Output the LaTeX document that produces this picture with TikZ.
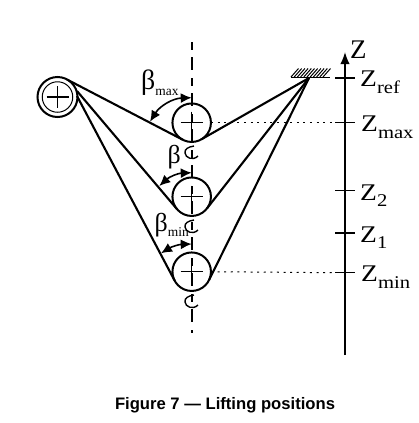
\documentclass[tikz,border=0pt]{standalone}
\usepackage{fontspec}
\setmainfont{Liberation Serif}
\newfontfamily\capfont{Liberation Sans}
\usetikzlibrary{calc,arrows.meta}
\tikzset{
  x=1bp,y=-1bp,
  pulley/.style={circle,draw,line width=2bp,minimum size=38.5bp,inner sep=0pt,outer sep=0pt},
  rope/.style={line width=2.1bp},
  crossbar/.style={line width=1.2bp},
  dotline/.style={line width=1bp,dash pattern=on 2bp off 4.6bp},
  tickmark/.style={line width=1.4bp},
  anglearrow/.style={line width=1.6bp,{Latex[length=11bp,width=10bp]}-{Latex[length=11bp,width=10bp]}},
  zlabel/.style={anchor=base west,inner sep=0pt,xscale=1.15,transform shape,font=\fontsize{24}{24}\selectfont},
  greek/.style={anchor=base west,inner sep=0pt},
  hookarc/.style={line width=1.4bp}
}
\newcommand{\zsub}[1]{\raisebox{-6.3bp}{\fontsize{18}{18}\selectfont #1}}
\newcommand{\gsub}[1]{\raisebox{-5.5bp}{\fontsize{13.5}{13.5}\selectfont #1}}
\begin{document}
\begin{tikzpicture}
\useasboundingbox (0,0) rectangle (419,423);
% pulleys
\node[pulley,minimum size=40bp] (big) at (57.5,97) {};
\node[circle,draw,line width=1bp,minimum size=30.5bp,inner sep=0pt] (bigin) at (big) {};
\node[pulley] (p1) at (191.7,122.7) {};
\node[pulley] (p2) at (191.7,196.7) {};
\node[pulley] (p3) at (191.7,271.7) {};
% vertical dashed axis
\coordinate (axtop) at (191.7,42);
\coordinate (axbot) at (191.7,333);
\draw[line width=1.7bp,dash pattern=on 8bp off 7bp on 13bp off 8bp] (axtop) -- (axbot);
% crosses
\foreach \n in {big,p1,p2,p3}{
  \draw[crossbar] ($(\n)+(-11,0)$) -- ($(\n)+(11,0)$);
  \draw[crossbar] ($(\n)+(0,-11)$) -- ($(\n)+(0,11)$);
}
% anchor
\coordinate (anchor) at (309,78);
\coordinate (hl) at (291,77.5);
\coordinate (hr) at (330,77.5);
\draw[line width=1.8bp] (hl) -- (hr);
\foreach \i in {0,...,10}{
  \draw[line width=1bp] ($(hl)+(\i*3.2,-0.5)$) -- ++(7.5,-8.5);
}
% ropes
\coordinate (a1) at (67,79.5);
\coordinate (a2) at (77,91);
\coordinate (a3) at (77,96);
\foreach \p/\a in {p1/a1,p2/a2,p3/a3}{
  \coordinate (L\p) at (tangent cs:node=\p,point={(\a)},solution=1);
  \coordinate (R\p) at (tangent cs:node=\p,point={(anchor)},solution=2);
  \draw[rope] (\a) -- (L\p);
  \draw[rope] (anchor) -- (R\p);
}
% hooks
\foreach \y in {153,227,302}{
  \draw[hookarc] (194,\y-7) .. controls (188,\y-6) and (184.5,\y-4) .. (185,\y)
     .. controls (185.5,\y+5) and (193,\y+8) .. (198,\y+3);
}
% dotted levels
\coordinate (zA) at (335,122.7);
\coordinate (zB) at (335,272.7);
\draw[dotline] (p1.east) -- (zA);
\draw[dotline] (p3.east) -- (zB);
% Z axis
\coordinate (zbot) at (345,355);
\coordinate (ztop) at (345,52);
\draw[line width=1.6bp,-{Latex[length=12bp,width=9.5bp]}] (zbot) -- (ztop);
\foreach \y in {78,122.7,190.7,233,272.7}{
  \coordinate (tl) at (335,\y); \coordinate (tr) at (355,\y);
  \draw[tickmark] (tl) -- (tr);
}
\node[anchor=base west,inner sep=0pt,font=\fontsize{27}{27}\selectfont] (zz) at (350,58) {Z};
\node[zlabel] (zref) at (360,86.7) {Z\zsub{ref}};
\node[zlabel] (zmax) at (361,131.7) {Z\zsub{max}};
\node[zlabel] (z2) at (360,200) {Z\zsub{2}};
\node[zlabel] (z1) at (360,242) {Z\zsub{1}};
\node[zlabel] (zmin) at (361,281.7) {Z\zsub{min}};
% angle arcs
\coordinate (b1a) at (150,121.7); \coordinate (b1b) at (191.7,97.7);
\draw[anglearrow] (b1a) to[bend left=28] (b1b);
\coordinate (b2a) at (159.3,186); \coordinate (b2b) at (191.7,172.7);
\draw[anglearrow] (b2a) to[bend left=20] (b2b);
\coordinate (b3a) at (161,253.3); \coordinate (b3b) at (191.7,244);
\draw[anglearrow] (b3a) to[bend left=15] (b3b);
\node[greek,font=\fontsize{28}{28}\selectfont] (bmax) at (141,89.5) {β\gsub{max}};
\node[greek,font=\fontsize{26}{26}\selectfont] (bmid) at (167.5,163) {β};
\node[greek,font=\fontsize{26}{26}\selectfont] (bmin) at (154.5,231) {β\gsub{min}};
% caption
\node[inner sep=0pt,font=\capfont\bfseries\fontsize{16.7}{18}\selectfont] (cap) at (225,405) {Figure 7 — Lifting positions};
\end{tikzpicture}
\end{document}
